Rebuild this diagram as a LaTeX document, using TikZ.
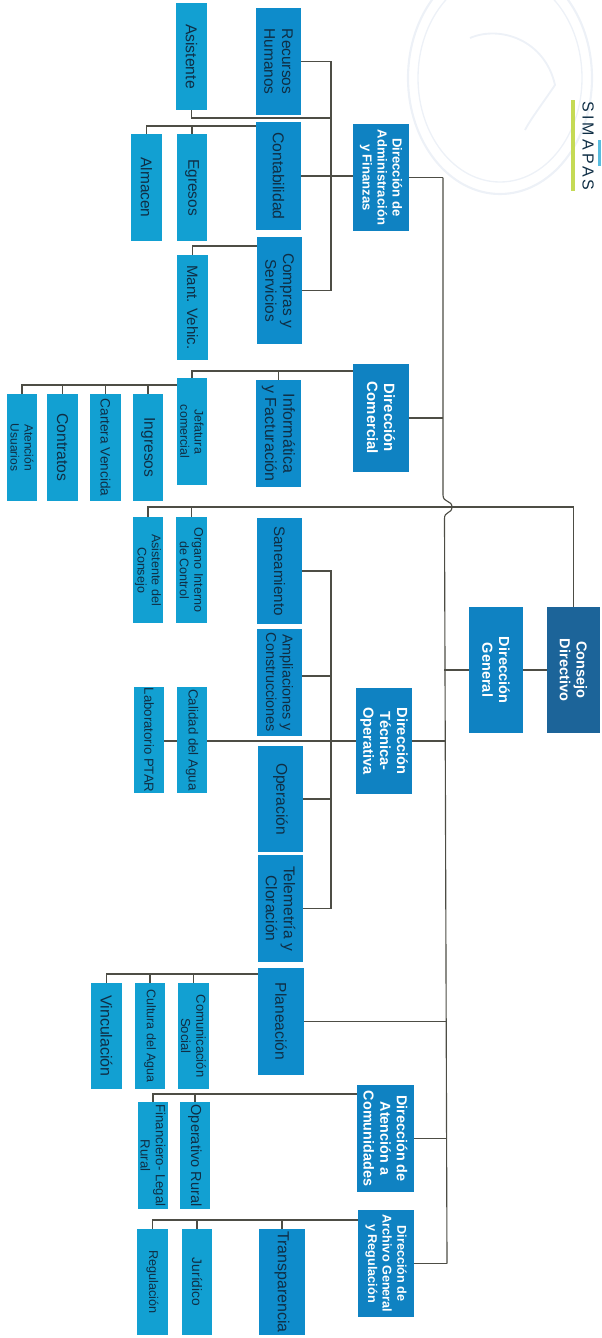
\documentclass[tikz,border=0pt]{standalone}
\usepackage{fontspec}
\setmainfont{Liberation Sans}
\usetikzlibrary{backgrounds,calc}
\definecolor{cCons}{HTML}{1C6499}
\definecolor{cDir}{HTML}{0F82C2}
\definecolor{cMid}{HTML}{0E8CCB}
\definecolor{cLow}{HTML}{12A0D2}
\definecolor{cLine}{HTML}{4D4D45}
\definecolor{cInk}{HTML}{0F2E45}
\definecolor{cStamp}{HTML}{EDF1F7}
\definecolor{cBar}{HTML}{C5DA55}
\tikzset{
  orgbase/.style={rotate=-90,inner sep=0pt,outer sep=0pt,align=center},
  consbox/.style={orgbase,fill=cCons,text=white,node font=\bfseries},
  dirbox/.style={orgbase,fill=cDir,text=white,node font=\bfseries},
  midbox/.style={orgbase,fill=cMid,text=cInk},
  lowbox/.style={orgbase,fill=cLow,text=cInk},
  link/.style={draw=cLine,line width=0.85pt,line join=miter},
}
% style, name, x1, y1, x2, y2, font size, text
\newcommand{\orgnode}[8]{%
  \pgfmathsetmacro{\orgCx}{(#3+#5)/2}%
  \pgfmathsetmacro{\orgCy}{(#4+#6)/2}%
  \pgfmathsetmacro{\orgW}{(#6-#4)*0.75}%
  \pgfmathsetmacro{\orgH}{(#5-#3)*0.75}%
  \pgfmathsetmacro{\orgL}{#7*1.15}%
  \node[#1,minimum width=\orgW pt,minimum height=\orgH pt,font=\fontsize{#7}{\orgL}\selectfont] (#2) at (\orgCx,\orgCy)
    {#8};%
}
\begin{document}
\begin{tikzpicture}[x=0.75pt,y=-0.75pt]
\useasboundingbox (0,0) rectangle (601,1338);
% stamp and logo
\begin{scope}
  \clip (0,0) rectangle (601,1338);
  \draw[cStamp,line width=1.6pt] (500,78) ellipse [x radius=92,y radius=116];
  \draw[cStamp,line width=1pt] (500,78) ellipse [x radius=82,y radius=104];
  \draw[cStamp,line width=1.4pt] (470,38) .. controls (500,25) and (545,40) .. (555,85) .. controls (545,100) and (530,120) .. (525,130);
\end{scope}
\fill[cLow!70!white] (598,140) rectangle (601,166);
\fill[cBar] (571,100) rectangle (575,191);
\node[rotate=-90,text=cInk,inner sep=0pt] (logo) at (588,146)
  {\fontsize{12}{14}\selectfont\addfontfeature{LetterSpace=20}SIMAPAS};
% boxes
\orgnode{lowbox}{asi}{176}{3}{207}{110}{11.8}{Asistente}
\orgnode{midbox}{rh}{256}{8}{301}{115}{11.6}{Recursos\\Humanos}
\orgnode{midbox}{cont}{256}{122}{301}{230}{11.8}{Contabilidad}
\orgnode{dirbox}{adm}{353}{124}{409}{231}{9.8}{Dirección de\\Administración\\y Finanzas}
\orgnode{lowbox}{alm}{131}{134}{162}{241}{11.6}{Almacen}
\orgnode{lowbox}{egr}{177}{134}{207}{241}{11.6}{Egresos}
\orgnode{midbox}{cmp}{257}{237}{302}{344}{11.6}{Compras y\\Servicios}
\orgnode{lowbox}{mant}{177}{255}{208}{360}{11.3}{Mant. Vehic.}
\orgnode{dirbox}{dco}{353}{364}{409}{472}{11.2}{Dirección\\Comercial}
\orgnode{midbox}{inf}{256}{380}{301}{487}{12}{Informática\\y Facturación}
\orgnode{lowbox}{jef}{177}{378}{207}{485}{9.3}{Jefatura\\comercial}
\orgnode{lowbox}{ate}{7}{394}{37}{501}{9}{Atención\\Usuarios}
\orgnode{lowbox}{ctr}{47}{394}{78}{501}{11.8}{Contratos}
\orgnode{lowbox}{car}{90}{394}{121}{501}{10.2}{Cartera Vencida}
\orgnode{lowbox}{ing}{133}{394}{163}{501}{11.7}{Ingresos}
\orgnode{lowbox}{org}{176}{517}{207}{623}{9.4}{Organo Interno\\de Control}
\orgnode{lowbox}{ac}{133}{517}{163}{623}{9.4}{Asistente del\\Consejo}
\orgnode{midbox}{san}{257}{518}{302}{624}{11.4}{Saneamiento}
\orgnode{midbox}{amp}{257}{629}{302}{736}{10.8}{Ampliaciones y\\Construcciones}
\orgnode{dirbox}{dg}{469}{607}{523}{733}{10.9}{Dirección\\General}
\orgnode{consbox}{cd}{547}{607}{600}{733}{10.9}{Consejo\\Directivo}
\orgnode{dirbox}{tec}{356}{688}{412}{794}{11}{Dirección\\Técnica-\\Operativa}
\orgnode{lowbox}{cal}{177}{687}{207}{793}{10}{Calidad del Agua}
\orgnode{lowbox}{lab}{134}{687}{164}{793}{9.9}{Laboratorio PTAR}
\orgnode{midbox}{ope}{258}{746}{303}{852}{11.7}{Operación}
\orgnode{midbox}{tel}{258}{855}{303}{962}{11.7}{Telemetría y\\Cloración}
\orgnode{midbox}{pla}{258}{968}{304}{1075}{11.7}{Planeación}
\orgnode{lowbox}{vin}{91}{983}{122}{1089}{12}{Vinculación}
\orgnode{lowbox}{cul}{135}{983}{165}{1089}{9.4}{Cultura del Agua}
\orgnode{lowbox}{cmn}{178}{983}{209}{1089}{9.8}{Comunicación\\Social}
\orgnode{dirbox}{dat}{357}{1085}{414}{1192}{10.8}{Dirección de\\Atención a\\Comunidades}
\orgnode{lowbox}{opr}{180}{1102}{210}{1209}{10.9}{Operativo Rural}
\orgnode{lowbox}{fin}{138}{1102}{168}{1209}{9.9}{Financiero- Legal\\Rural}
\orgnode{dirbox}{dar}{358}{1210}{414}{1317}{9.5}{Dirección de\\Archivo General\\y Regulación}
\orgnode{midbox}{tra}{259}{1229}{305}{1335}{12}{Transparencia}
\orgnode{lowbox}{jur}{182}{1229}{212}{1335}{10.3}{Jurídico}
\orgnode{lowbox}{reg}{137}{1229}{168}{1335}{9.5}{Regulación}
% helper coordinates
\coordinate (admV) at (331,118);
\coordinate (opV) at (331,0);
\coordinate (tA) at (443,0);
\coordinate (tB) at (444,0);
\coordinate (tC) at (445,0);
\coordinate (tD) at (446,0);
\coordinate (tE) at (447,0);
\coordinate (busC) at (300,507);
\begin{scope}[on background layer]
  % trunk with bridge
  \draw[link] (adm.north -| tA) -- (443,495) .. controls (443,503) and (452,500) .. (452,507)
     .. controls (452,514) and (444,511) .. (444.5,519) -- (dar.north -| tE);
  \draw[link] (adm.north) -- (adm.north -| tA);
  \draw[link] (dco.north) -- (dco.north -| tA);
  \draw[link] (dg.south) -- (dg.south -| tB);
  \draw[link] (dg.north) -- (cd.south);
  \draw[link] (tec.north) -- (tec.north -| tC);
  \draw[link] (pla.north) -- (pla.north -| tD);
  \draw[link] (dat.north) -- (dat.north -| tD);
  \draw[link] (dar.north) -- (dar.north -| tE);
  % council
  \draw[link] (cd.west) |- (busC -| ac.west) -- (ac.west);
  \draw[link] (busC -| org.west) -- (org.west);
  % administration
  \draw[link] (rh.north) -- (rh.north -| admV) -- (cmp.north -| admV) -- (cmp.north);
  \draw[link] (cont.north) -- (cont.north -| adm.south);
  \draw[link] (asi.east) |- (admV);
  \draw[link] ([yshift=-3pt]cont.south west) -| (alm.west);
  \draw[link] ([yshift=-3pt]cont.south west) -| (egr.west);
  \draw[link] ([yshift=-6.75pt]cmp.south west) -| (mant.west);
  % commercial
  \draw[link] ([yshift=-5.25pt]dco.south west) -| (jef.west);
  \draw[link] ([yshift=-5.25pt]dco.south west) -| (inf.west);
  \draw[link] ([yshift=-5.25pt]jef.south west) -| (ate.west);
  \draw[link] ([yshift=-5.25pt]jef.south west) -| (ctr.west);
  \draw[link] ([yshift=-5.25pt]jef.south west) -| (car.west);
  \draw[link] ([yshift=-5.25pt]jef.south west) -| (ing.west);
  % technical
  \draw[link] (tec.south) -- (tec.south -| lab.north);
  \draw[link] (san.north) -- (san.north -| opV) -- (tel.north -| opV) -- (tel.north);
  \draw[link] ([yshift=4.9pt]amp.north) -- ([yshift=4.9pt]amp.north -| opV);
  \draw[link] (ope.north) -- (ope.north -| opV);
  % planning
  \draw[link] ([yshift=-4.5pt]pla.south west) -| (vin.west);
  \draw[link] ([yshift=-4.5pt]pla.south west) -| (cul.west);
  \draw[link] ([yshift=-4.5pt]pla.south west) -| (cmn.west);
  % communities
  \draw[link] ([yshift=-6.75pt]dat.south west) -| (fin.west);
  \draw[link] ([yshift=-6.75pt]dat.south west) -| (opr.west);
  % archive
  \draw[link] ([yshift=-7.5pt]dar.south west) -| (reg.west);
  \draw[link] ([yshift=-7.5pt]dar.south west) -| (jur.west);
  \draw[link] ([yshift=-7.5pt]dar.south west) -| (tra.west);
\end{scope}
\end{tikzpicture}
\end{document}
